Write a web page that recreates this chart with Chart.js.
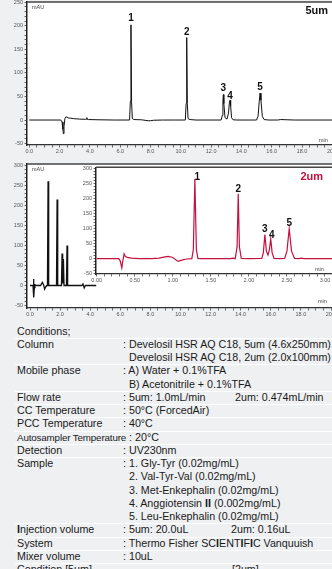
<!DOCTYPE html>
<html>
<head>
<meta charset="utf-8">
<script src="https://cdn.jsdelivr.net/npm/chart.js@4.4.1/dist/chart.umd.min.js"></script>
<style>
  html, body {
    margin: 0;
    padding: 0;
    width: 332px;
    height: 569px;
    overflow: hidden;
    background: #eef0f2;
  }

  body {
    position: relative;
    font-family: "Liberation Sans", Arial, sans-serif;
    color: #1a1a1a;
  }

  canvas {
    position: absolute;
  }

  #conditions {
    position: absolute;
    left: 17px;
    top: 324.5px;
    width: 320px;
    font-size: 10.7px;
  }

  .group {
    position: relative;
  }

  .group + .group::before {
    content: "";
    position: absolute;
    left: -2px;
    right: -10px;
    top: 0;
    height: 1px;
    background: #ffffff;
  }

  .line {
    position: relative;
    height: 13.25px;
    line-height: 13.25px;
    white-space: pre;
  }

  .lab {
    display: inline-block;
    width: 106px;
  }

  .pad {
    visibility: hidden;
  }

  .small {
    font-size: 9.8px;
    letter-spacing: -0.15px;
  }

  .col2 {
    position: absolute;
    top: 0;
  }
</style>
</head>
<body>

<canvas id="chart5um" width="345" height="157" style="left:0;top:0"></canvas>
<canvas id="chart2umWide" width="345" height="163" style="left:0;top:158px"></canvas>
<canvas id="chart2umInset" width="275" height="125" style="left:70px;top:164px"></canvas>

<div id="conditions">
  <div class="group"><div class="line">Conditions;</div></div>
  <div class="group">
    <div class="line"><span class="lab">Column</span>: Develosil HSR AQ C18, 5um (4.6x250mm)</div>
    <div class="line"><span class="lab"></span><span class="pad">: </span>Develosil HSR AQ C18, 2um (2.0x100mm)</div>
  </div>
  <div class="group">
    <div class="line"><span class="lab">Mobile phase</span>: A) Water + 0.1%TFA</div>
    <div class="line"><span class="lab"></span><span class="pad">: </span>B) Acetonitrile + 0.1%TFA</div>
  </div>
  <div class="group"><div class="line"><span class="lab">Flow rate</span>: 5um: 1.0mL/min<span class="col2" style="left:218px">2um: 0.474mL/min</span></div></div>
  <div class="group"><div class="line"><span class="lab">CC Temperature</span>: 50°C (ForcedAir)</div></div>
  <div class="group"><div class="line"><span class="lab">PCC Temperature</span>: 40°C</div></div>
  <div class="group"><div class="line"><span class="small">Autosampler Temperature</span> : 20°C</div></div>
  <div class="group"><div class="line"><span class="lab">Detection</span>: UV230nm</div></div>
  <div class="group">
    <div class="line"><span class="lab">Sample</span>: 1. Gly-Tyr (0.02mg/mL)</div>
    <div class="line"><span class="lab"></span><span class="pad">: </span>2. Val-Tyr-Val (0.02mg/mL)</div>
    <div class="line"><span class="lab"></span><span class="pad">: </span>3. Met-Enkephalin (0.02mg/mL)</div>
    <div class="line"><span class="lab"></span><span class="pad">: </span>4. Anggiotensin <b>II</b> (0.002mg/mL)</div>
    <div class="line"><span class="lab"></span><span class="pad">: </span>5. Leu-Enkephalin (0.02mg/mL)</div>
  </div>
  <div class="group"><div class="line"><span class="lab"><b>I</b>njection volume</span>: 5um: 20.0uL<span class="col2" style="left:214px">2um: 0.16uL</span></div></div>
  <div class="group"><div class="line"><span class="lab">System</span>: Thermo Fisher SC<b>I</b>ENT<b>I</b>F<b>I</b>C Vanquuish</div></div>
  <div class="group"><div class="line"><span class="lab">Mixer volume</span>: 10uL</div></div>
  <div class="group"><div class="line"><span class="lab">Condition [5um]</span><span class="col2" style="left:215px">[2um]</span></div></div>
</div>

<script>
// 5um column, 0-20 min (top chart)
const time5um = [0, 2.08, 2.16, 2.22, 2.25, 2.29, 2.35, 2.42, 2.48, 2.56, 2.7, 2.9, 3.3, 3.70, 3.77, 3.80, 3.83, 3.9, 4.6, 5.6, 6.62, 6.67, 6.71, 6.75, 6.80, 6.90, 7.4, 7.85, 8.0, 8.2, 8.8, 9.6, 10.30, 10.35, 10.39, 10.43, 10.48, 10.6, 11.0, 12.0, 12.66, 12.74, 12.78, 12.81, 12.84, 12.92, 13.05, 13.15, 13.21, 13.25, 13.29, 13.35, 13.45, 13.7, 14.6, 15.0, 15.10, 15.18, 15.23, 15.29, 15.38, 15.5, 15.8, 16.4, 16.6, 17.5, 21];
const mau5um = [0, 0, -4, -20, -29, -14, 3, 7, 6, 4.5, 4, 3, 2, 1.5, 1.5, 5, 1.5, 1, 0.5, 0, 0, 40, 202, 40, 3, 1, 0.5, -1.5, -1.5, -0.5, 0, 0, 0, 35, 175, 35, 3, 1, 0, 0, 0, 10, 40, 54, 35, 5, 2, 15, 38, 42, 30, 5, 0.5, 0, 0, 0, 8, 40, 57, 42, 8, 1, 0, 0, 1, 0, 0];

// 2um column, drawn on the 0-20 min axis (black trace)
const time2umWide = [0, 0.20, 0.23, 0.26, 0.29, 0.33, 0.45, 0.7, 0.82, 0.90, 0.97, 1.05, 1.12, 1.16, 1.20, 1.24, 1.30, 1.6, 1.76, 1.80, 1.84, 1.95, 2.09, 2.13, 2.17, 2.22, 2.26, 2.34, 2.42, 2.46, 2.50, 2.56, 2.8, 3.45, 3.52, 3.60, 3.68, 3.8, 4.4];
const mau2umWide = [0, 0, 16, -30, -5, 2, 0, 0, 8, 2, -9, -3, 0, 0, 261, 0, 0, 0, 0, 215, 0, 0, 0, 80, 5, 66, 0, 0, 0, 100, 0, 0, 0, 0, 4, -6, 0, 0, 0];

// 2um column, 0-3 min (red inset)
const time2um = [0, 0.29, 0.31, 0.33, 0.345, 0.36, 0.375, 0.40, 0.46, 0.56, 0.72, 0.82, 0.88, 0.94, 1.00, 1.07, 1.12, 1.18, 1.25, 1.27, 1.29, 1.31, 1.33, 1.37, 1.6, 1.76, 1.79, 1.82, 1.845, 1.86, 1.875, 1.90, 2.0, 2.17, 2.19, 2.21, 2.23, 2.25, 2.27, 2.287, 2.305, 2.33, 2.40, 2.47, 2.50, 2.53, 2.56, 2.60, 2.66, 2.69, 2.72, 3.3];
const mau2um = [0, 0, -8, -31, -5, 16, 8, 4, 2, 0, 0, 2, 5, 7.5, 4, -9, -5, -1, 0, 30, 265, 30, 1, 0, 0, 0, 2, 0, 40, 216, 40, 1, 0, 1, 20, 80, 25, 12, 30, 66, 20, 1, 0, 1, 25, 100, 25, 1, 0, 2, 0, 0];

const peakNames = ["1", "2", "3", "4", "5"];
const peakTime5um = [6.71, 10.39, 12.81, 13.25, 15.23];
const peakHeight5um = [202, 175, 54, 42, 57];
const peakTime2um = [1.29, 1.86, 2.21, 2.287, 2.53];
const peakHeight2um = [265, 216, 80, 66, 100];

const FONT = "'Liberation Sans', Arial, sans-serif";
const RED = "#c4103f";

function toPoints(times, values) {
  return times.map((t, i) => ({ x: t, y: values[i] }));
}

function isMultiple(value, every) {
  const r = Math.abs(value / every - Math.round(value / every));
  return r < 1e-6;
}

function xAxis(min, max, step, every, digits, height) {
  return {
    type: "linear",
    min: min,
    max: max,
    afterFit(scale) {
      scale.height = height;
      scale.paddingLeft = 0;
      scale.paddingRight = 0;
    },
    border: { display: true, color: "#333", width: 1.2 },
    grid: {
      display: true,
      drawOnChartArea: false,
      drawTicks: true,
      tickLength: 2.5,
      tickColor: "#444",
      tickWidth: 0.8,
    },
    ticks: {
      stepSize: step,
      includeBounds: false,
      autoSkip: false,
      maxRotation: 0,
      padding: 1,
      color: "#555",
      font: { family: FONT, size: 5.5 },
      callback: (value) => (isMultiple(value, every) ? value.toFixed(digits) : ""),
    },
  };
}

function yAxis(min, max, width) {
  return {
    type: "linear",
    min: min,
    max: max,
    afterFit(scale) {
      scale.width = width;
      scale.paddingTop = 0;
      scale.paddingBottom = 0;
    },
    border: { display: true, color: "#222", width: 1.5 },
    grid: {
      display: true,
      drawOnChartArea: false,
      drawTicks: true,
      tickLength: 2.5,
      tickColor: "#444",
      tickWidth: 0.8,
    },
    ticks: {
      stepSize: 10,
      includeBounds: false,
      autoSkip: false,
      padding: 1.5,
      color: "#555",
      font: { family: FONT, size: 5.5 },
      callback: (value) => (isMultiple(value, 50) ? String(value) : ""),
    },
  };
}

// white plot area, top frame line, captions and peak numbers
const chartDecor = {
  id: "chartDecor",

  beforeDraw(chart) {
    const { ctx, chartArea } = chart;
    ctx.save();
    ctx.fillStyle = "#ffffff";
    ctx.fillRect(chartArea.left, chartArea.top, chartArea.right - chartArea.left, chartArea.bottom - chartArea.top);
    ctx.restore();
  },

  afterDraw(chart, args, opts) {
    const { ctx, chartArea, scales } = chart;
    ctx.save();

    ctx.strokeStyle = "#444";
    ctx.lineWidth = 1.5;
    ctx.beginPath();
    ctx.moveTo(chartArea.left, chartArea.top);
    ctx.lineTo(chartArea.right, chartArea.top);
    ctx.stroke();

    ctx.fillStyle = "#444";
    ctx.font = "5.5px " + FONT;
    ctx.textBaseline = "middle";
    ctx.textAlign = "left";
    if (opts.showMau) {
      ctx.fillText("mAU", chartArea.left + 5, chartArea.top + 5);
    }
    ctx.fillText("min", opts.minX, opts.minY);

    if (opts.title) {
      ctx.fillStyle = opts.titleColor;
      ctx.font = "bold 11px " + FONT;
      ctx.textAlign = "right";
      ctx.fillText(opts.title, opts.titleX, opts.titleY);
    }

    if (opts.peakTimes) {
      ctx.fillStyle = "#111";
      ctx.font = "bold 10px " + FONT;
      ctx.textAlign = "center";
      ctx.textBaseline = "alphabetic";
      opts.peakTimes.forEach((t, i) => {
        const x = scales.x.getPixelForValue(t) + (opts.nudgeX ? opts.nudgeX[i] : 0);
        const y = scales.y.getPixelForValue(opts.peakHeights[i]) - (opts.lift ? opts.lift[i] : 3);
        ctx.fillText(peakNames[i], x, y);
      });
    }

    ctx.restore();
  },
};

function makeChart(id, points, color, lineWidth, scales, padding, decor) {
  return new Chart(document.getElementById(id), {
    type: "line",
    data: {
      datasets: [
        {
          data: points,
          borderColor: color,
          borderWidth: lineWidth,
          pointRadius: 0,
          tension: 0,
          fill: false,
        },
      ],
    },
    options: {
      responsive: false,
      animation: false,
      devicePixelRatio: 1,
      events: [],
      layout: { padding: padding },
      scales: scales,
      plugins: {
        legend: { display: false },
        tooltip: { enabled: false },
        chartDecor: decor,
      },
    },
    plugins: [chartDecor],
  });
}

makeChart(
  "chart5um",
  toPoints(time5um, mau5um),
  "#111",
  1,
  { x: xAxis(-0.152, 20.838, 0.5, 2, 1, 12), y: yAxis(-53, 250.5, 27) },
  { top: 2, right: 0, left: 0, bottom: 0 },
  {
    showMau: true,
    minX: 319,
    minY: 140,
    title: "5um",
    titleColor: "#111",
    titleX: 328,
    titleY: 11,
    peakTimes: peakTime5um,
    peakHeights: peakHeight5um,
    lift: [3.5, 3, 3.8, 1.5, 2.8],
  }
);

makeChart(
  "chart2umWide",
  toPoints(time2umWide, mau2umWide),
  "#111",
  1.3,
  { x: xAxis(-0.2, 20.93, 0.5, 2, 1, 13), y: yAxis(-56.25, 304, 27) },
  { top: 6, right: 0, left: 0, bottom: 0 },
  { showMau: true, minX: 318, minY: 143 }
);

makeChart(
  "chart2umInset",
  toPoints(time2um, mau2um),
  RED,
  1.2,
  { x: xAxis(-0.0092, 3.263, 0.1, 0.5, 2, 15), y: yAxis(-51, 304, 26) },
  { top: 3.3, right: 0, left: 0, bottom: 0 },
  {
    showMau: false,
    minX: 245,
    minY: 105,
    title: "2um",
    titleColor: RED,
    titleX: 253,
    titleY: 13,
    peakTimes: peakTime2um,
    peakHeights: peakHeight2um,
    nudgeX: [2.5, 0, 0, 1, 0],
    lift: [-1, 2.2, 2.5, 1.2, 2.2],
  }
);
</script>
</body>
</html>
